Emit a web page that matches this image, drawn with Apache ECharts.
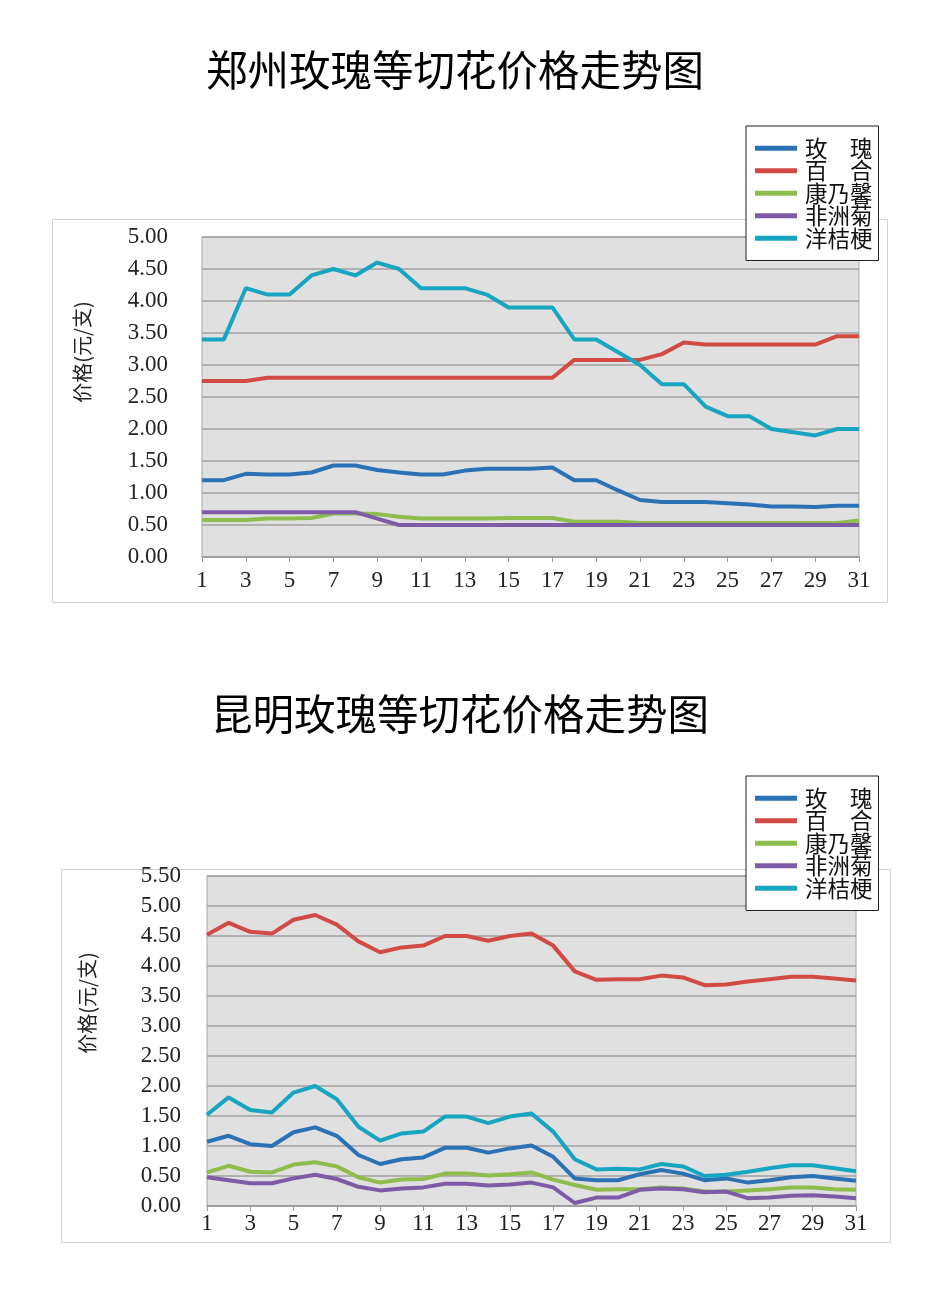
<!DOCTYPE html>
<html>
<head>
<meta charset="utf-8">
<script src="https://cdn.jsdelivr.net/npm/echarts@6/dist/echarts.min.js"></script>
<style>
html,body{margin:0;padding:0;background:#fff;}
#c{width:927px;height:1296px;}
</style>
</head>
<body>
<div id="c"></div>
<script>
// ---- data ----
const days = ['1','2','3','4','5','6','7','8','9','10','11','12','13','14','15','16','17','18','19','20','21','22','23','24','25','26','27','28','29','30','31'];
const seriesNames = ['玫　瑰','百　合','康乃馨','非洲菊','洋桔梗'];
const yAxisName = '价格(元/支)';
const title1 = '郑州玫瑰等切花价格走势图';
const title2 = '昆明玫瑰等切花价格走势图';

// 郑州
const zzRose      = [1.2,1.2,1.3,1.29,1.29,1.32,1.43,1.43,1.36,1.32,1.29,1.29,1.35,1.38,1.38,1.38,1.40,1.2,1.2,1.04,0.89,0.86,0.86,0.86,0.84,0.82,0.79,0.79,0.78,0.80,0.80];
const zzLily      = [2.75,2.75,2.75,2.8,2.8,2.8,2.8,2.8,2.8,2.8,2.8,2.8,2.8,2.8,2.8,2.8,2.8,3.08,3.08,3.08,3.08,3.17,3.35,3.32,3.32,3.32,3.32,3.32,3.32,3.45,3.45];
const zzCarnation = [0.58,0.58,0.58,0.6,0.6,0.61,0.68,0.68,0.67,0.63,0.6,0.6,0.6,0.6,0.61,0.61,0.61,0.55,0.55,0.55,0.53,0.53,0.53,0.53,0.53,0.53,0.53,0.53,0.53,0.53,0.57];
const zzGerbera   = [0.7,0.7,0.7,0.7,0.7,0.7,0.7,0.7,0.6,0.5,0.5,0.5,0.5,0.5,0.5,0.5,0.5,0.5,0.5,0.5,0.5,0.5,0.5,0.5,0.5,0.5,0.5,0.5,0.5,0.5,0.5];
const zzEustoma   = [3.4,3.4,4.2,4.1,4.1,4.4,4.5,4.4,4.6,4.5,4.2,4.2,4.2,4.1,3.9,3.9,3.9,3.4,3.4,3.2,3.0,2.7,2.7,2.35,2.2,2.2,2.0,1.95,1.9,2.0,2.0];

// 昆明
const kmRose      = [1.07,1.17,1.03,1.0,1.23,1.31,1.17,0.85,0.70,0.78,0.81,0.97,0.97,0.89,0.96,1.01,0.82,0.46,0.43,0.43,0.53,0.60,0.54,0.43,0.46,0.39,0.43,0.48,0.50,0.46,0.42];
const kmLily      = [4.52,4.72,4.57,4.54,4.77,4.85,4.69,4.41,4.23,4.31,4.34,4.5,4.5,4.42,4.5,4.54,4.34,3.91,3.77,3.78,3.78,3.84,3.81,3.68,3.69,3.74,3.78,3.82,3.82,3.79,3.76];
const kmCarnation = [0.56,0.67,0.57,0.56,0.69,0.73,0.66,0.48,0.39,0.44,0.45,0.54,0.54,0.51,0.53,0.56,0.44,0.35,0.27,0.28,0.28,0.31,0.29,0.24,0.24,0.26,0.28,0.31,0.31,0.28,0.27];
const kmGerbera   = [0.48,0.43,0.38,0.38,0.46,0.52,0.45,0.32,0.26,0.29,0.31,0.37,0.37,0.34,0.36,0.39,0.31,0.05,0.14,0.14,0.27,0.29,0.28,0.23,0.24,0.13,0.14,0.17,0.18,0.16,0.13];
const kmEustoma   = [1.52,1.81,1.6,1.56,1.89,2.0,1.78,1.32,1.09,1.21,1.24,1.49,1.49,1.38,1.49,1.54,1.24,0.78,0.61,0.62,0.61,0.70,0.66,0.50,0.52,0.57,0.63,0.68,0.68,0.63,0.58];

// ---- styling ----
const colors = ['#2a72b5','#d24a44','#8dbd4c','#7d5ba6','#17a5c1'];
const numFont = 'Liberation Serif';
const cjkFont = 'Noto Sans CJK SC';

const chart = echarts.init(document.getElementById('c'), null, {renderer:'canvas'});

function mkSeries(data, gi){
  return data.map((d,i)=>({
    name: seriesNames[i], type:'line', xAxisIndex:gi, yAxisIndex:gi,
    data:d, symbol:'none', smooth:false,
    lineStyle:{color:colors[i], width:4},
    itemStyle:{color:colors[i]},
    z: 3 + i
  }));
}

function xAxis(gi, margin){
  return {
    type:'category', gridIndex:gi, data:days, boundaryGap:false,
    axisLine:{show:true, lineStyle:{color:'#9a9a9a', width:1.5}},
    axisTick:{show:true, interval:1, length:5, lineStyle:{color:'#9a9a9a'}},
    axisLabel:{interval:1, margin:margin, fontFamily:numFont, fontSize:23, color:'#222'},
    splitLine:{show:false}
  };
}
function yAxis(gi, max, margin){
  return {
    type:'value', gridIndex:gi, min:0, max:max, interval:0.5,
    axisLine:{show:false}, axisTick:{show:false},
    axisLabel:{margin:margin, fontFamily:numFont, fontSize:23, color:'#222', formatter:v=>v.toFixed(2)},
    splitLine:{show:true, lineStyle:{color:'#a0a0a0', width:1.5}}
  };
}
function legend(left, top){
  return {
    data: seriesNames, orient:'vertical', left:left, top:top,
    icon:'rect', itemWidth:42, itemHeight:5, itemGap:0,
    padding:[11,6,11,9],
    backgroundColor:'#fff', borderColor:'#222', borderWidth:1,
    textStyle:{fontFamily:cjkFont, fontSize:22.5, color:'#111', lineHeight:22, padding:[0,0,0,3]},
    selectedMode:false
  };
}

const option = {
  animation:false,
  backgroundColor:'#fff',
  title:[
    {text:title1, left:201, top:44, textStyle:{fontFamily:cjkFont, fontSize:41.5, fontWeight:'normal', color:'#000'}},
    {text:title2, left:206, top:688, textStyle:{fontFamily:cjkFont, fontSize:41.5, fontWeight:'normal', color:'#000'}}
  ],
  graphic:[
    {type:'rect', shape:{x:52.5,y:219.5,width:835,height:383}, style:{fill:'none', stroke:'#d0d0d0', lineWidth:1}, z:-10},
    {type:'rect', shape:{x:61.5,y:869.5,width:829,height:373}, style:{fill:'none', stroke:'#d0d0d0', lineWidth:1}, z:-10},
    {type:'text', x:82, y:352, rotation:Math.PI/2, style:{text:yAxisName, font:'20px "Noto Sans CJK SC"', fill:'#222', textAlign:'center', textVerticalAlign:'middle'}},
    {type:'text', x:87, y:1003, rotation:Math.PI/2, style:{text:yAxisName, font:'20px "Noto Sans CJK SC"', fill:'#222', textAlign:'center', textVerticalAlign:'middle'}}
  ],
  legend:[legend(746,126), legend(746,776)],
  grid:[
    {left:202, top:237, width:657, height:320, show:true, backgroundColor:'#e0e0e0', borderColor:'#a8a8a8', borderWidth:1},
    {left:207, top:876, width:649, height:330, show:true, backgroundColor:'#e0e0e0', borderColor:'#a8a8a8', borderWidth:1}
  ],
  xAxis:[xAxis(0,12), xAxis(1,6)],
  yAxis:[yAxis(0,5,34), yAxis(1,5.5,26)],
  series:[].concat(
    mkSeries([zzRose,zzLily,zzCarnation,zzGerbera,zzEustoma],0),
    mkSeries([kmRose,kmLily,kmCarnation,kmGerbera,kmEustoma],1)
  )
};
chart.setOption(option);
</script>
</body>
</html>
